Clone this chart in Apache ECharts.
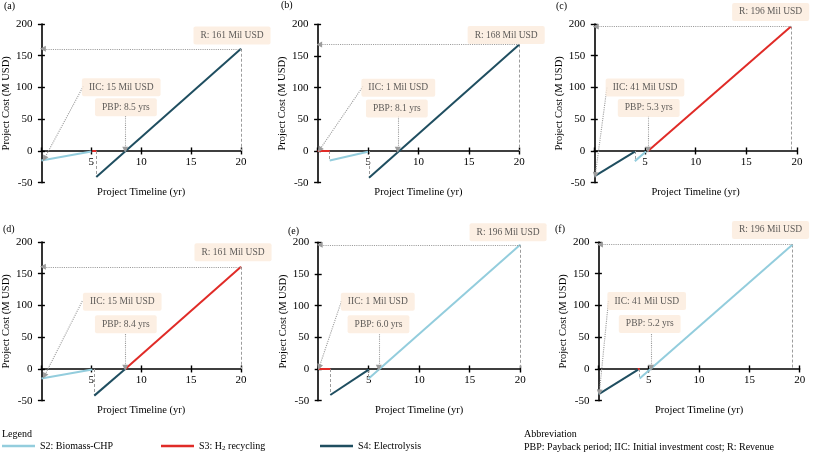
<!DOCTYPE html>
<html><head><meta charset="utf-8">
<script src="https://cdn.jsdelivr.net/npm/echarts@6/dist/echarts.min.js"></script>
<style>html,body{margin:0;padding:0;background:#fff}#c{width:813px;height:454px}</style>
</head><body><div id="c"></div>
<script>
// ---------------- data ----------------
const panels = ['(a)', '(b)', '(c)', '(d)', '(e)', '(f)'];
const xRange = [0, 20, 5];          // min, max, interval (yr)
const yRange = [-50, 200, 50];      // min, max, interval (M USD)
const revenue = [161, 168, 196, 161, 196, 196];
const iic = [15, 1, 41, 15, 1, 41];
const pbp = ['8.5', '8.1', '5.3', '8.4', '6.0', '5.2'];
const pbpYear = [8.4, 7.95, 5.3, 8.4, 6.0, 5.23];   // where the PBP arrow points
// cumulative project cost lines, [year, M USD]
const s2 = [
  [[0, -15], [5, -1]],
  [[1.2, -15], [5, -1]],
  [[4, -16], [5.1, -1]],
  [[0, -15], [5.1, -1]],
  [[5, -15], [20, 196]],
  [[4.1, -15], [19.3, 196]]
];
const s3 = [
  [[5.1, 0], [5.5, 0]],
  [[0, 0], [1.2, 0]],
  [[5.3, 0], [19.4, 196]],
  [[8.4, 0], [20, 161]],
  [[0, 0], [1.2, 0]],
  [[3.9, 0], [4.1, 0]]
];
const s4 = [
  [[5.5, -41], [20, 161]],
  [[5.1, -42], [20, 168]],
  [[0, -40], [4, -1]],
  [[5.3, -42], [8.4, 0]],
  [[1.2, -41], [5, -1]],
  [[0, -40], [3.95, -1]]
];
const seriesNames = ['S2: Biomass-CHP', 'S3: H2 recycling', 'S4: Electrolysis'];
const abbreviation = 'PBP: Payback period; IIC: Initial investment cost; R: Revenue';

// ---------------- layout (annotation anchors, data coords) ----------------
const rBox   = [[19.1, 182], [18.7, 183], [17.4, 219], [19.2, 184], [18.8, 216], [17.1, 219]];
const iicBox = [[8.0, 100.5], [8.0, 100], [5.0, 100], [8.1, 106], [5.9, 106], [4.8, 107]];
const pbpBox = [[8.47, 68.8], [7.86, 67], [5.37, 67.7], [8.46, 70.4], [5.97, 70.8], [5.1, 71]];
const iicFrom = [[4.2, 102], [4.5, 102], [1.25, 100], [4.1, 107], [2.3, 107], [1.0, 107]];
const iicTip  = [[0.3, -12], [0.2, 2], [0.1, -38], [0.3, -11], [0.1, 3], [0.1, -37]];
const grids = [
  [40, 24, 201, 158.7], [317.6, 24.3, 201.7, 158.4], [594.3, 24, 202.7, 158.7],
  [40, 242, 201, 158.7], [318.2, 242.3, 202, 158.4], [598.4, 242, 201.3, 158.7]
];
const letterPos = [[4, 6.5], [281, 5], [556, 6.7], [3, 229], [288, 231], [555, 229]];

const FONT = '"Liberation Serif", "Times New Roman", serif';
const COLORS = ['#93CDDD', '#E02B27', '#1F4E60'];
const GUIDE = '#9c9c9c';

const option = { animation: false, backgroundColor: '#fff', grid: [], xAxis: [], yAxis: [], series: [], graphic: [] };

const axisLineStyle = { color: '#000', width: 1.6 };
const tickStyle = { color: '#000', width: 1.4 };

panels.forEach((p, i) => {
  const g = grids[i];
  option.grid.push({ left: g[0], top: g[1], width: g[2], height: g[3], containLabel: false });
  const xi = 2 * i, yi = 2 * i;
  // the time axis sits on the zero-cost line: shift it up from the grid bottom
  const zeroOffset = -g[3] * (0 - yRange[0]) / (yRange[1] - yRange[0]);
  const xBase = { gridIndex: i, type: 'value', min: xRange[0], max: xRange[1], interval: xRange[2], splitLine: { show: false }, position: 'bottom', offset: zeroOffset };
  const yBase = { gridIndex: i, type: 'value', min: yRange[0], max: yRange[1], interval: yRange[2], splitLine: { show: false } };
  option.xAxis.push(Object.assign({}, xBase, {
    axisLine: { show: true, onZero: false, lineStyle: axisLineStyle },
    axisTick: { show: true, inside: false, length: 3.5, lineStyle: tickStyle },
    axisLabel: { show: true, showMinLabel: false, margin: 6, color: '#000', fontSize: 11, fontFamily: FONT },
    name: 'Project Timeline (yr)', nameLocation: 'middle', nameGap: 36,
    nameTextStyle: { color: '#000', fontSize: 10.5, fontFamily: FONT }
  }));
  option.xAxis.push(Object.assign({}, xBase, {
    axisLine: { show: false, onZero: false },
    axisTick: { show: true, inside: true, length: 3.5, lineStyle: tickStyle },
    axisLabel: { show: false }
  }));
  option.yAxis.push(Object.assign({}, yBase, {
    position: 'left',
    axisLine: { show: true, onZero: false, lineStyle: axisLineStyle },
    axisTick: { show: true, inside: false, length: 3.5, lineStyle: tickStyle },
    axisLabel: { show: true, margin: 9, color: '#000', fontSize: 11, fontFamily: FONT },
    name: 'Project Cost (M USD)', nameLocation: 'middle', nameGap: 25,
    nameTextStyle: { color: '#000', fontSize: 10.5, fontFamily: FONT }
  }));
  option.yAxis.push(Object.assign({}, yBase, {
    position: 'left',
    axisLine: { show: false, onZero: false },
    axisTick: { show: true, inside: true, length: 3.5, lineStyle: tickStyle },
    axisLabel: { show: false }
  }));

  // dashed guides: drops to the start of each new segment and from the revenue point
  const sets = [s2[i], s3[i], s4[i]];
  const dashes = [];
  let last = null;
  sets.forEach(d => {
    const a = d[0];
    if (a[0] > 0 && a[1] < 0) dashes.push({ coords: [[a[0], 0], [a[0], a[1]]] });
    const b = d[d.length - 1];
    if (!last || b[0] > last[0]) last = b;
  });
  dashes.push({ coords: [[last[0], last[1]], [last[0], 0]] });
  option.series.push({
    type: 'lines', coordinateSystem: 'cartesian2d', xAxisIndex: xi, yAxisIndex: yi,
    polyline: false, symbol: 'none', silent: true, z: 1,
    lineStyle: { color: GUIDE, width: 1, type: [3, 2], opacity: 1, curveness: 0 },
    data: dashes
  });
  // dotted arrows
  option.series.push({
    type: 'lines', coordinateSystem: 'cartesian2d', xAxisIndex: xi, yAxisIndex: yi,
    polyline: false, symbol: ['none', 'triangle'], symbolSize: 6, silent: true, z: 4,
    lineStyle: { color: GUIDE, width: 1.1, type: 'dotted', opacity: 1, curveness: 0 },
    data: [
      { coords: [[last[0], revenue[i]], [0.15, revenue[i]]] },
      { coords: [iicFrom[i], iicTip[i]] },
      { coords: [[pbpYear[i], 55], [pbpYear[i], 2]] }
    ]
  });
  // cost lines
  sets.forEach((d, k) => {
    option.series.push({
      type: 'line', name: seriesNames[k], xAxisIndex: xi, yAxisIndex: yi,
      data: d, symbol: 'none', showSymbol: false, z: 3,
      lineStyle: { color: COLORS[k], width: 2 }, itemStyle: { color: COLORS[k] }
    });
  });
  // label boxes
  option.series.push({
    type: 'scatter', xAxisIndex: xi, yAxisIndex: yi, symbolSize: 1, clip: false, silent: true, z: 6,
    itemStyle: { color: 'rgba(0,0,0,0)' },
    label: {
      show: true, position: 'inside', formatter: '{b}', color: '#333', fontSize: 9.5, fontFamily: FONT,
      backgroundColor: '#FBEBDC', padding: [4, 7, 3, 7], borderRadius: 2, lineHeight: 11
    },
    data: [
      { name: 'R: ' + revenue[i] + ' Mil USD', value: rBox[i] },
      { name: 'IIC: ' + iic[i] + ' Mil USD', value: iicBox[i] },
      { name: 'PBP: ' + pbp[i] + ' yrs', value: pbpBox[i] }
    ]
  });
  option.graphic.push({
    type: 'text', x: letterPos[i][0], y: letterPos[i][1], silent: true,
    style: { text: p, font: '10px ' + FONT, fill: '#000', verticalAlign: 'middle' }
  });
});

option.graphic.push(
  { type: 'text', x: 2, y: 434, style: { text: 'Legend', font: '10px ' + FONT, fill: '#000', verticalAlign: 'middle' } },
  { type: 'text', x: 524, y: 434, style: { text: 'Abbreviation', font: '10px ' + FONT, fill: '#000', verticalAlign: 'middle' } },
  { type: 'text', x: 524, y: 447, style: { text: abbreviation, font: '10px ' + FONT, fill: '#000', verticalAlign: 'middle' } }
);

const legendLeft = [2, 161, 320];
option.legend = seriesNames.map((n, k) => ({
  data: [n], left: legendLeft[k], top: 441, icon: 'rect', itemWidth: 33, itemHeight: 2.5, itemGap: 0,
  selectedMode: false, padding: 0,
  formatter: name => name === 'S3: H2 recycling' ? '{t|S3: H}{s|2}{t| recycling}' : '{t|' + name + '}',
  textStyle: {
    color: '#000', fontFamily: FONT, fontSize: 10,
    rich: {
      t: { fontSize: 10, fontFamily: FONT, color: '#000', lineHeight: 12 },
      s: { fontSize: 7, fontFamily: FONT, color: '#000', lineHeight: 8, verticalAlign: 'bottom' }
    }
  }
}));

const chart = echarts.init(document.getElementById('c'), null, { renderer: 'canvas' });
chart.setOption(option);
</script>
</body></html>
